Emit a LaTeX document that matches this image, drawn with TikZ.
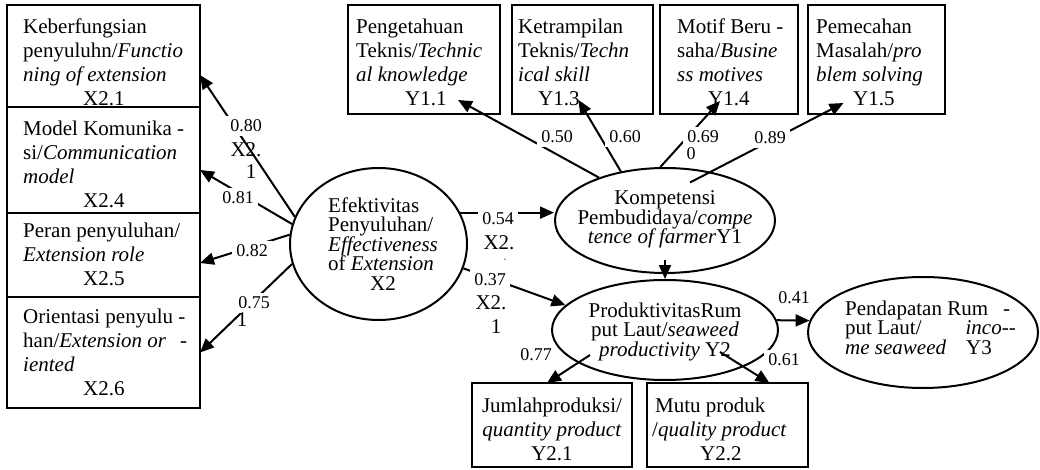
\documentclass[tikz,border=0pt]{standalone}
\usepackage{fontspec}
\setmainfont{Liberation Serif}
\usetikzlibrary{positioning}
\usetikzlibrary{arrows.meta}
\usetikzlibrary{shapes.geometric}

\begin{document}
\begin{tikzpicture}[x=1pt, y=-1pt,
    indbox/.style={draw=black, line width=1.3pt, inner sep=0pt, outer sep=0pt},
    boxtext/.style={inner sep=0pt, align=left, font=\fontsize{21}{24}\selectfont},
    latent/.style={ellipse, draw=black, line width=2pt, inner sep=0pt},
    latenttext/.style={inner sep=0pt, font=\fontsize{21}{19.5}\selectfont},
    loadarrow/.style={-{Triangle[length=14pt, width=12pt]}, line width=2pt},
    coef/.style={fill=white, inner sep=4pt, font=\fontsize{18}{20}\selectfont},
    stray/.style={inner sep=0pt, font=\fontsize{21}{22}\selectfont}]
        \useasboundingbox (0,0) rectangle (1040,470);

        \node[indbox, minimum width=193pt, minimum height=102pt] (fungsi) at (103.5,56) {};
        \node[indbox, minimum width=193pt, minimum height=106pt] (komunikasi) [below=0pt of fungsi] {};
        \node[indbox, minimum width=193pt, minimum height=84pt] (peran) [below=0pt of komunikasi] {};
        \node[indbox, minimum width=193pt, minimum height=111pt] (orientasi) [below=0pt of peran] {};

        \node[boxtext, anchor=north west] (fungsit) at ([xshift=16pt, yshift=-13.5pt]fungsi.north west) {Keberfungsian\\ penyuluhn/\textit{Functio}\\ \textit{ning of extension}\\ \hspace*{60pt}X2.1};
        \node[boxtext, anchor=north west] (komunikasit) at ([xshift=16pt, yshift=-13.5pt]komunikasi.north west) {Model Komunika -\\ si/\textit{Communication}\\ \textit{model}\\ \hspace*{60pt}X2.4};
        \node[boxtext, anchor=north west] (perant) at ([xshift=16pt, yshift=-9.5pt]peran.north west) {Peran penyuluhan/\\ \textit{Extension role}\\ \hspace*{60pt}X2.5};
        \node[boxtext, anchor=north west] (orientasit) at ([xshift=16pt, yshift=-11.5pt]orientasi.north west) {Orientasi penyulu -\\ han/\textit{Extension or}\hspace{14pt}-\\ \textit{iented}\\ \hspace*{60pt}X2.6};

        \node[indbox, minimum width=152pt, minimum height=109pt] (tahu) at (424,59.5) {};
        \node[indbox, minimum width=141pt, minimum height=109pt] (terampil) [right=12pt of tahu] {};
        \node[indbox, minimum width=138pt, minimum height=109pt] (motif) [right=7pt of terampil] {};
        \node[indbox, minimum width=137pt, minimum height=109pt] (masalah) [right=10pt of motif] {};

        \node[boxtext, anchor=north west] (tahut) at ([xshift=8pt, yshift=-13.5pt]tahu.north west) {Pengetahuan\\ Teknis/\textit{Technic}\\ \textit{al knowledge}\\ \hspace*{49pt}Y1.1};
        \node[boxtext, anchor=north west] (terampilt) at ([xshift=6pt, yshift=-13.5pt]terampil.north west) {Ketrampilan\\ Teknis/\textit{Techn}\\ \textit{ical skill}\\ \hspace*{20pt}Y1.3};
        \node[boxtext, anchor=north west] (motift) at ([xshift=17pt, yshift=-13.5pt]motif.north west) {Motif Beru -\\ saha/\textit{Busine}\\ \textit{ss motives}\\ \hspace*{31pt}Y1.4};
        \node[boxtext, anchor=north west] (masalaht) at ([xshift=8pt, yshift=-13.5pt]masalah.north west) {Pemecahan\\ Masalah/\textit{pro}\\ \textit{blem solving}\\ \hspace*{37pt}Y1.5};

        \node[indbox, minimum width=160pt, minimum height=84pt] (jumlah) at (552,425) {};
        \node[indbox, minimum width=161pt, minimum height=84pt] (mutu) [right=15pt of jumlah] {};

        \node[boxtext, align=center, anchor=north] (jumlaht) at ([yshift=-14.5pt]jumlah.north) {Jumlahproduksi/\\ \textit{quantity product}\\ Y2.1};
        \node[boxtext, anchor=north west] (mutut) at ([xshift=5pt, yshift=-14.5pt]mutu.north west) {\hspace*{3pt}Mutu produk\\ /\textit{quality product}\\ \hspace*{48pt}Y2.2};

        \node[latent, minimum width=177pt, minimum height=152pt] (efek) at (378.5,244) {};
        \node[latent, minimum width=220pt, minimum height=105pt] (komp) at (665,220.5) {};
        \node[latent, minimum width=226pt, minimum height=100pt] (prod) at (665,330) {};
        \node[latent, minimum width=230pt, minimum height=111pt] (pend) at (923,332.5) {};

        \node[latenttext, align=left, anchor=north west] (efekt) at ([xshift=-50.5pt, yshift=46.5pt]efek.center) {Efektivitas\\ Penyuluhan/\\ \textit{Effectiveness}\\ of \textit{Extension}\\ \hspace*{42pt}X2};
        \node[latenttext, align=center, anchor=north] (kompt) at ([yshift=30pt]komp.center) {Kompetensi\\ Pembudidaya/\textit{compe}\\ \textit{tence of farmer}Y1};
        \node[latenttext, align=center, anchor=north] (prodt) at ([yshift=27.5pt]prod.center) {ProduktivitasRum\\ put Laut/\textit{seaweed}\\ \textit{productivity} Y2};
        \node[latenttext, align=left, anchor=north west, font=\fontsize{21}{19}\selectfont] (pendt) at ([xshift=-78pt, yshift=32pt]pend.center) {Pendapatan Rum\hspace{15pt}-\\ put Laut/\hspace{44pt}\textit{inco}-{}-\\ \textit{me seaweed}\hspace{20pt}Y3};

        \draw[loadarrow] (efek.162) -- ([yshift=-19pt]fungsi.east);
        \draw[loadarrow] (efek.167) -- ([yshift=-10pt]komunikasi.east);
        \draw[loadarrow] (efek.174) -- ([yshift=-8pt]peran.east);
        \draw[loadarrow] (efek.193) -- (orientasi.east);
        \draw[loadarrow] (efek.21) -- (efek.21 -| komp.west);
        \draw[loadarrow] (efek.344) -- (prod.166);

        \draw[loadarrow] (komp.147) -- ([xshift=34pt, yshift=14pt]tahu.south);
        \draw[loadarrow] (komp.132) -- ([xshift=-4pt, yshift=14pt]terampil.south);
        \draw[loadarrow] (komp.95) -- ([xshift=-9pt, yshift=13pt]motif.south);
        \draw[loadarrow] ([shift={(25,-38)}]komp.center) -- ([xshift=-33pt, yshift=11pt]masalah.south);
        \draw[loadarrow] ([yshift=14pt]komp.south) -- (komp.south |- prod.north);

        \draw[loadarrow] (prod.5) -- (pend.174);
        \draw[loadarrow] ([shift={(-75,25)}]prod.center) -- ([xshift=-5pt]jumlah.north);
        \draw[loadarrow] ([shift={(55,22)}]prod.center) -- ([xshift=42pt]mutu.north);

        \node[coef] (c80) at (246,126) {0.80};
        \node[coef] (c81) at (238,198) {0.81};
        \node[coef] (c82) at (252,251) {0.82};
        \node[coef] (c75) at (254,303) {0.75};
        \node[coef] (c54) at (498,219) {0.54};
        \node[coef] (c37) at (490,280) {0.37};
        \node[coef] (c50) at (557,137) {0.50};
        \node[coef] (c60) at (625,137) {0.60};
        \node[coef] (c69) at (703,137) {0.69};
        \node[coef] (c89) at (770,138) {0.89};
        \node[coef] (c41) at (794,298) {0.41};
        \node[coef] (c77) at (536,355) {0.77};
        \node[coef] (c61) at (784,360) {0.61};

        \node[stray] (s80a) at (246,150) {X2.};
        \node[stray] (s80b) at (251,172) {1};
        \node[stray] (s75) at (242,320) {1};
        \node[stray] (s54a) at (499,243) {X2.};
        \node[stray, font=\fontsize{8}{8}\selectfont] (s54b) at (505,260) {-};
        \node[stray] (s37a) at (491,303) {X2.};
        \node[stray] (s37b) at (496,327) {1};
        \node[stray, font=\fontsize{18}{20}\selectfont] (s69) at (691,154) {0};
    \end{tikzpicture}
\end{document}
